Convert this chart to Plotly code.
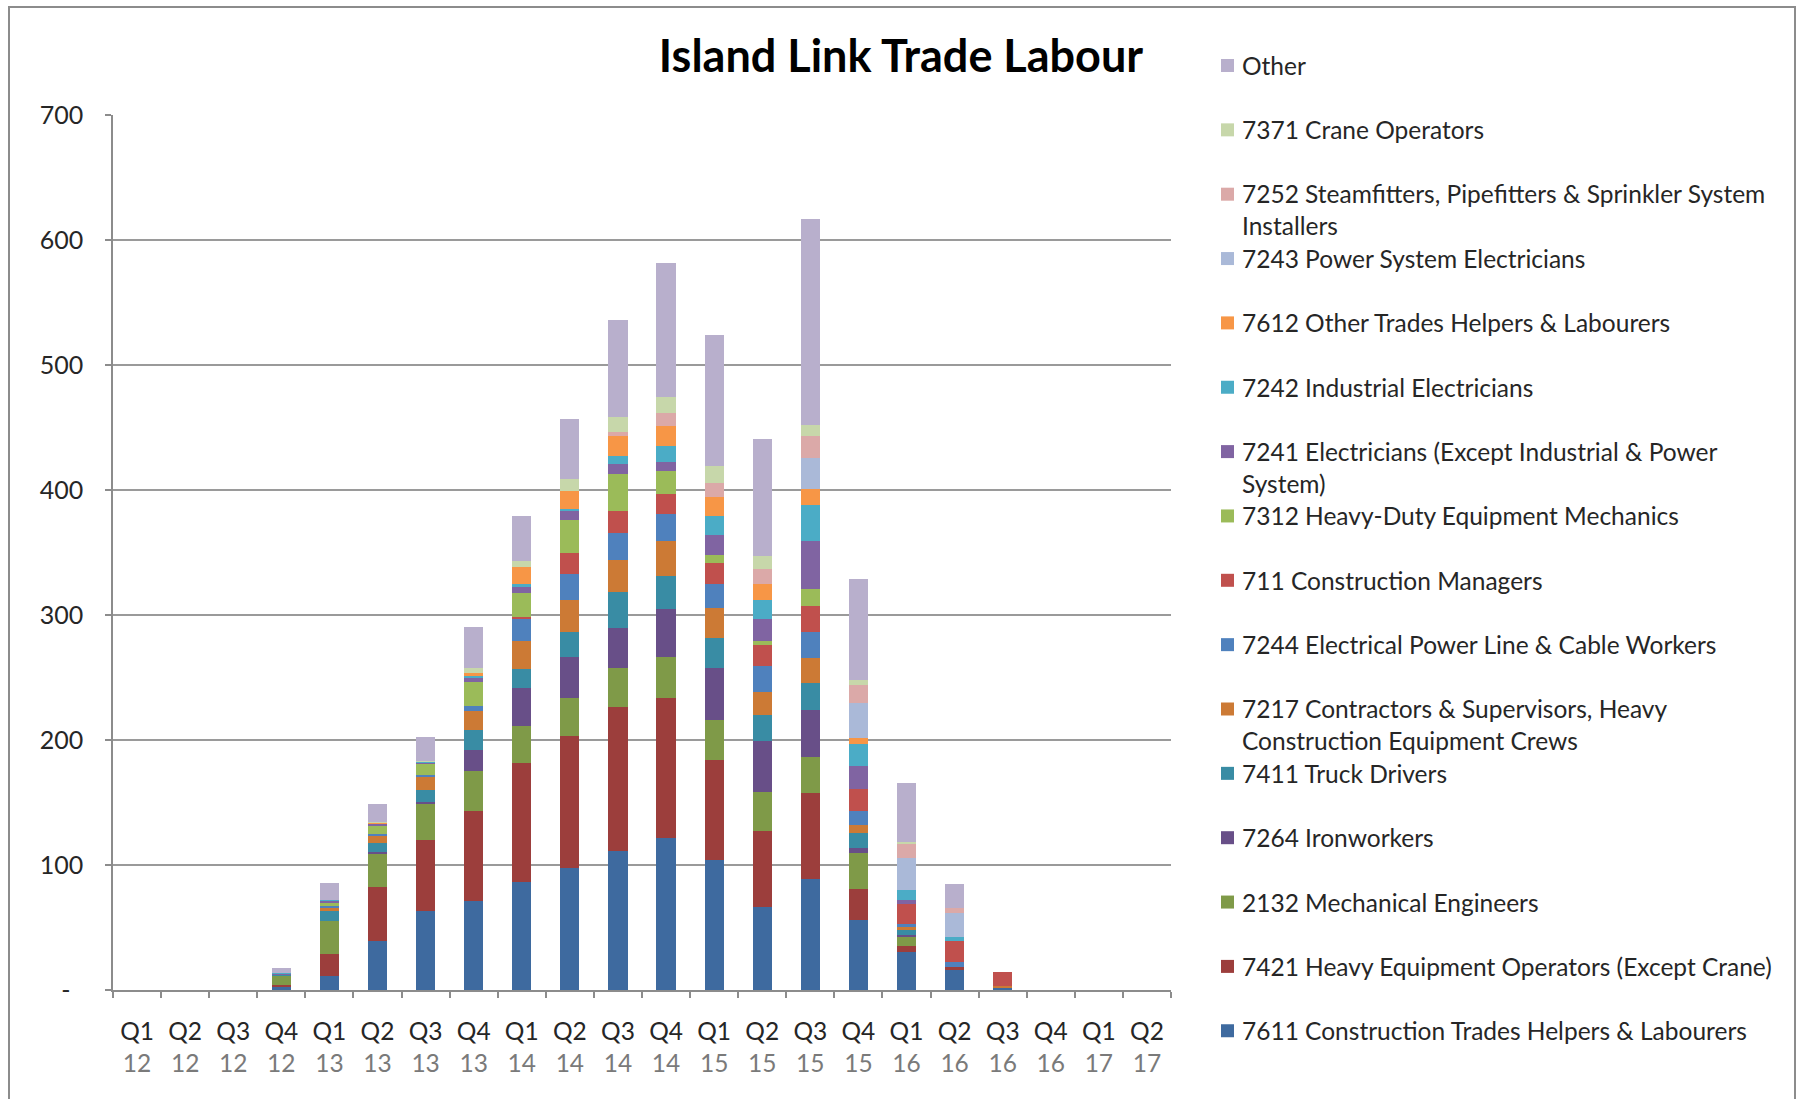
import plotly.graph_objects as go

# ---------------- data ----------------
quarters = ["Q1", "Q2", "Q3", "Q4", "Q1", "Q2", "Q3", "Q4", "Q1", "Q2", "Q3",
            "Q4", "Q1", "Q2", "Q3", "Q4", "Q1", "Q2", "Q3", "Q4", "Q1", "Q2"]
years = ["12", "12", "12", "12", "13", "13", "13", "13", "14", "14", "14",
         "14", "15", "15", "15", "15", "16", "16", "16", "16", "17", "17"]
categories = [f"{q} {y}" for q, y in zip(quarters, years)]

s7611 = [0, 0, 0, 2.7, 10.9, 39.4, 63.5, 71.6, 86.5, 97.3, 111.4, 121.6, 104, 66.2, 88.5, 56.2, 30.5, 16.4, 2, 0, 0, 0]
s7421 = [0, 0, 0, 1.6, 18.1, 42.8, 56.8, 71.6, 95.1, 106.2, 114.9, 112, 80.4, 61, 69.3, 25, 5, 2, 0, 0, 0, 0]
s2132 = [0, 0, 0, 7.2, 26.3, 27.1, 28.9, 31.9, 29.8, 30, 31.2, 32.8, 32, 30.9, 28.8, 28.6, 7.5, 0, 0, 0, 0, 0]
s7264 = [0, 0, 0, 0, 0, 1, 1.3, 17.3, 30.3, 33, 31.9, 38.1, 41.2, 41.5, 37.6, 4, 1.3, 0, 0, 0, 0, 0]
s7411 = [0, 0, 0, 1.2, 8, 7.5, 9.8, 15.7, 15.1, 20.3, 28.9, 27.1, 23.8, 20.6, 21.3, 12.2, 4, 0, 0, 0, 0, 0]
s7217 = [0, 0, 0, 0, 2.9, 5.5, 10.8, 15.1, 22.2, 25.1, 25.5, 27.3, 23.9, 18.4, 20.5, 5.8, 2, 0, 1, 0, 0, 0]
s7244 = [0, 0, 0, 0, 0.8, 1.5, 1, 3.8, 17.8, 21.3, 22.2, 21.6, 19.4, 20.6, 20.8, 11.2, 2.5, 3.9, 0, 0, 0, 0]
s711 = [0, 0, 0, 0, 0, 0, 0, 0, 1.9, 16.3, 17, 16.5, 16.9, 16.9, 20.1, 18, 16, 17, 11.5, 0, 0, 0]
s7312 = [0, 0, 0, 0, 2.9, 7, 9, 19.5, 18.9, 26.2, 29.7, 18.4, 6.1, 3.3, 13.8, 0, 0, 0, 0, 0, 0, 0]
s7241 = [0, 0, 0, 0.5, 1.9, 1, 1, 3.2, 5.1, 7.3, 8.3, 6.9, 16, 17.7, 38.4, 18.5, 3, 0, 0, 0, 0, 0]
s7242 = [0, 0, 0, 0.5, 0.5, 0.5, 0.5, 1.6, 2.2, 1.9, 6, 12.7, 15.3, 14.7, 29.2, 17.6, 8, 3.1, 0, 0, 0, 0]
s7612 = [0, 0, 0, 0, 0, 0.5, 0, 2.7, 13.5, 14.6, 16, 15.9, 15.2, 13.2, 12.5, 4.2, 0, 0, 0, 0, 0, 0]
s7243 = [0, 0, 0, 0, 0, 0, 0, 0, 0, 0, 0, 0, 0, 0, 25.1, 28.3, 26, 19.1, 0, 0, 0, 0]
s7252 = [0, 0, 0, 0, 0, 0, 0, 0, 0, 0, 3.7, 10.6, 11.6, 12.1, 17.5, 14.7, 11, 3.8, 0, 0, 0, 0]
s7371 = [0, 0, 0, 0, 0, 1, 0.5, 3.3, 4.9, 9.1, 11.9, 13.3, 13.5, 10.3, 8.4, 4.1, 2, 0, 0, 0, 0, 0]
s_other = [0, 0, 0, 3.8, 13.3, 14, 19, 33.2, 35.7, 48.5, 77.4, 107, 104.8, 93.4, 164.9, 80.2, 47, 19.6, 0, 0, 0, 0]

# bottom -> top stacking order
series_names = [
    "7611 Construction Trades Helpers & Labourers",
    "7421 Heavy Equipment Operators (Except Crane)",
    "2132 Mechanical Engineers",
    "7264 Ironworkers",
    "7411 Truck Drivers",
    "7217 Contractors & Supervisors, Heavy<br>Construction Equipment Crews",
    "7244 Electrical Power Line & Cable Workers",
    "711 Construction Managers",
    "7312 Heavy-Duty Equipment Mechanics",
    "7241 Electricians (Except Industrial & Power<br>System)",
    "7242 Industrial Electricians",
    "7612 Other Trades Helpers & Labourers",
    "7243 Power System Electricians",
    "7252 Steamfitters, Pipefitters & Sprinkler System<br>Installers",
    "7371 Crane Operators",
    "Other",
]
series_values = [s7611, s7421, s2132, s7264, s7411, s7217, s7244, s711,
                 s7312, s7241, s7242, s7612, s7243, s7252, s7371, s_other]
series_colors = ["#3E6A9F", "#9C3E3C", "#7F9A48", "#684F88", "#398CA4", "#CC7A35",
                 "#4F81BD", "#C0504D", "#9BBB59", "#8064A2", "#4BACC6", "#F79646",
                 "#AAB9D8", "#DBA9A8", "#C7D7AA", "#B8AFCC"]

y_ticks = [0, 100, 200, 300, 400, 500, 600, 700]
y_tick_text = ["-\u00a0\u00a0", "100", "200", "300", "400", "500", "600", "700"]
x_tick_text = [f"{q}<br><span style='color:#7a7a7a'>{y}</span>" for q, y in zip(quarters, years)]

# ---------------- layout geometry ----------------
FW, FH = 1798, 1099
L, R, T, B = 113, 627, 115, 109
PW, PH = FW - L - R, FH - T - B
FONT = "Lato, Carlito, Calibri, 'Open Sans', sans-serif"


def fx(px):
    return (px - L) / PW


def fy(py):
    return (FH - B - py) / PH


fig = go.Figure()
for name, vals, col in zip(series_names, series_values, series_colors):
    fig.add_trace(go.Bar(
        x=categories, y=vals, name=name.replace("<br>", " "),
        marker=dict(color=col, line=dict(width=0)),
        showlegend=False,
    ))

shapes = []
annotations = []

# custom legend (uniform slots like the original)
leg_y0, leg_step = 65.5, 64.35
for i, (name, col) in enumerate(zip(series_names[::-1], series_colors[::-1])):
    yc = leg_y0 + i * leg_step
    shapes.append(dict(type="rect", xref="paper", yref="paper",
                       x0=fx(1221), x1=fx(1234), y0=fy(yc + 6.5), y1=fy(yc - 6.5),
                       fillcolor=col, line=dict(width=0)))
    two = "<br>" in name
    annotations.append(dict(text=name, xref="paper", yref="paper",
                            x=fx(1240), y=fy(yc + 15.5 if two else yc),
                            xanchor="left", yanchor="middle", align="left",
                            showarrow=False,
                            font=dict(family=FONT, size=24.5, color="#262626")))

# outer chart border
shapes.append(dict(type="rect", xref="paper", yref="paper",
                   x0=fx(9), x1=fx(1795), y0=fy(1120), y1=fy(7),
                   line=dict(color="#8C8C8C", width=2), fillcolor="rgba(0,0,0,0)",
                   layer="below"))

fig.update_layout(
    width=FW, height=FH,
    margin=dict(l=L, r=R, t=T, b=B, pad=0),
    paper_bgcolor="white", plot_bgcolor="white",
    barmode="stack", bargap=0.6,
    title=dict(text="<b>Island Link Trade Labour</b>", xref="container", yref="container",
               x=901 / FW, y=1 - 56 / FH, xanchor="center", yanchor="middle",
               font=dict(family=FONT, size=45, color="#000000")),
    font=dict(family=FONT, size=24, color="#262626"),
    shapes=shapes, annotations=annotations,
    showlegend=False,
)
fig.update_xaxes(
    type="category", tickmode="array", tickvals=categories, ticktext=x_tick_text,
    showline=True, linecolor="#8C8C8C", linewidth=1.5,
    ticks="outside", tickson="boundaries", ticklen=6, tickcolor="#8C8C8C", tickwidth=1.5,
    showgrid=False, tickfont=dict(family=FONT, size=24.5, color="#262626"),
    ticklabelstandoff=19, tickangle=0,
)
fig.update_yaxes(
    range=[0, 700], tickmode="array", tickvals=y_ticks, ticktext=y_tick_text,
    showline=True, linecolor="#8C8C8C", linewidth=1.5,
    ticks="outside", ticklen=6, tickcolor="#8C8C8C", tickwidth=1.5,
    showgrid=True, gridcolor="#9A9A9A", gridwidth=1.5, zeroline=False,
    tickfont=dict(family=FONT, size=25, color="#262626"),
    ticklabelstandoff=17,
)

fig.write_html("out.html")
